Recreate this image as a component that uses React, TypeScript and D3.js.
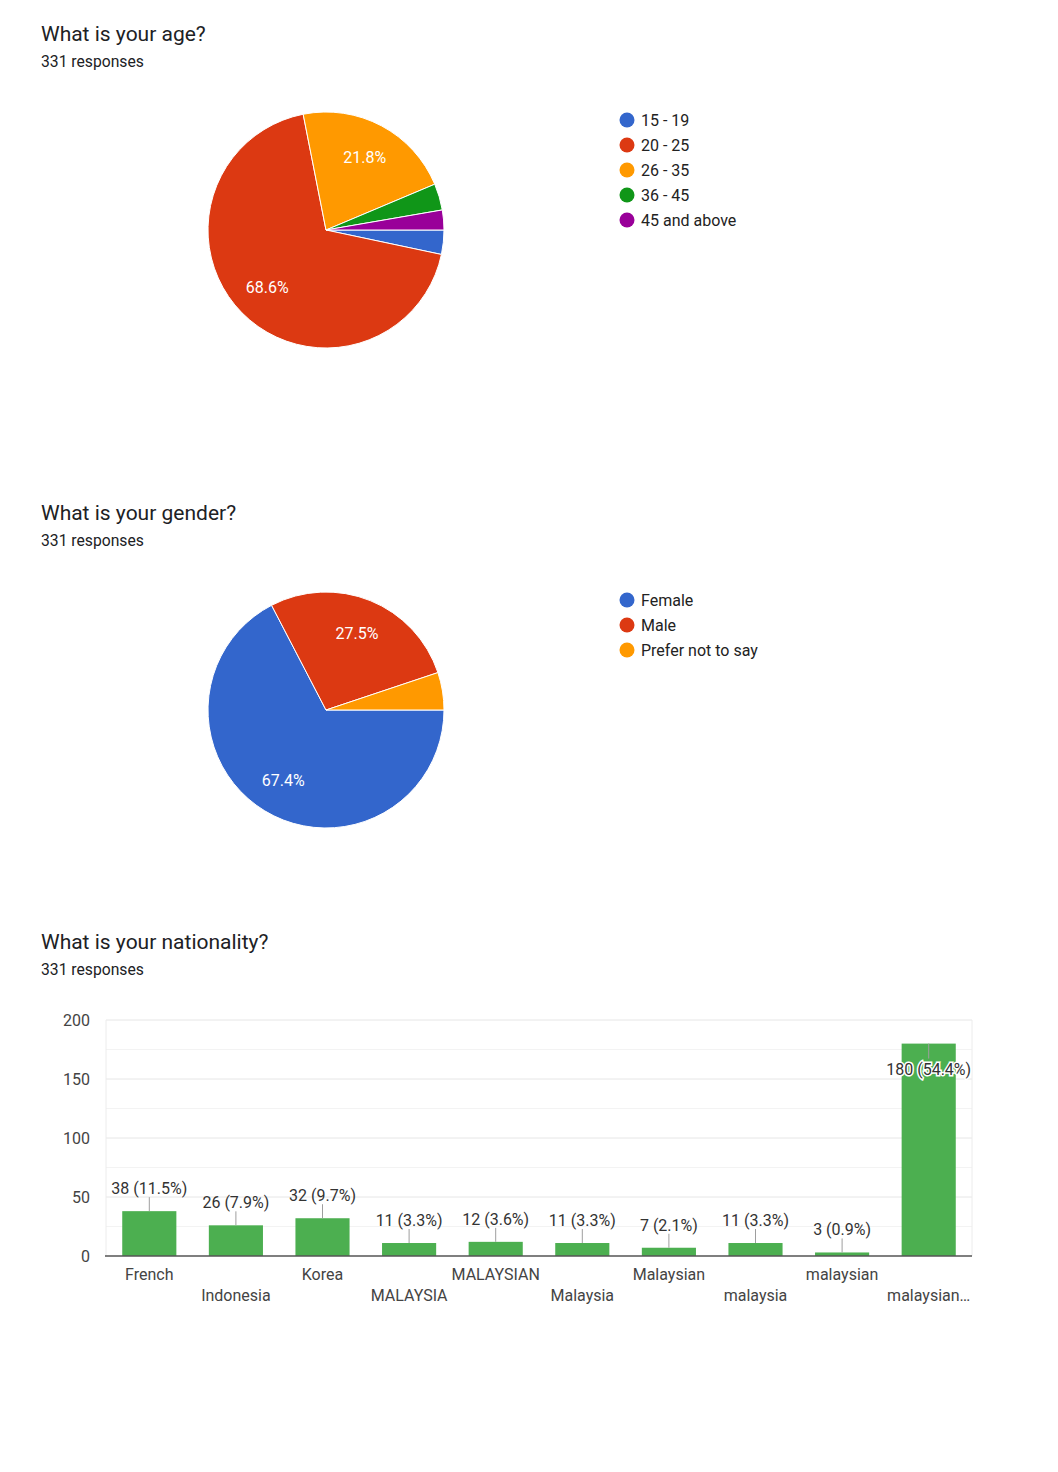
import React from "react";
import * as d3 from "d3";

const ageLabels = ["15 - 19", "20 - 25", "26 - 35", "36 - 45", "45 and above"];
const ageCounts = [11, 227, 72, 12, 9];
const ageColors = ["#3366cc", "#dc3912", "#ff9900", "#109618", "#990099"];

const genderLabels = ["Female", "Male", "Prefer not to say"];
const genderCounts = [223, 91, 17];
const genderColors = ["#3366cc", "#dc3912", "#ff9900"];

const nationCategories = [
  "French", "Indonesia", "Korea", "MALAYSIA", "MALAYSIAN",
  "Malaysia", "Malaysian", "malaysia", "malaysian", "malaysian…",
];
const nationCounts = [38, 26, 32, 11, 12, 11, 7, 11, 3, 180];
const nationTicks = [0, 50, 100, 150, 200];
const totalResponses = 331;

const FONT = "Roboto, 'Noto Sans', Arial, sans-serif";

function Header({ y, title }: { y: number; title: string }) {
  return (
    <g>
      <text x={41} y={y + 7} fontSize={21} fill="#202124" fontFamily={FONT}>{title}</text>
      <text x={41} y={y + 33} fontSize={15.7} fill="#202124" fontFamily={FONT}>{totalResponses} responses</text>
    </g>
  );
}

function Pie({ cx, cy, r, counts, colors, labels, legendY }: any) {
  const pie = d3.pie<number>().sort(null).startAngle(Math.PI / 2).endAngle(Math.PI / 2 + 2 * Math.PI);
  const arcs = pie(counts);
  const arc = d3.arc<any>().innerRadius(0).outerRadius(r);
  const labelArc = d3.arc<any>().innerRadius(r * 0.7).outerRadius(r * 0.7);
  const total = d3.sum(counts);
  return (
    <g>
      <g transform={`translate(${cx},${cy})`}>
        {arcs.map((a, i) => (
          <path key={i} d={arc(a) as string} fill={colors[i]} stroke="#fff" strokeWidth={1} />
        ))}
        {arcs.map((a, i) => {
          const p = a.value / total;
          if (p < 0.1) return null;
          const [x, y] = labelArc.centroid(a);
          return (
            <text key={"l" + i} x={x} y={y} fontSize={16} fill="#fff" textAnchor="middle"
              dominantBaseline="central" fontFamily={FONT}>
              {(p * 100).toFixed(1)}%
            </text>
          );
        })}
      </g>
      {labels.map((l: string, i: number) => (
        <g key={l} transform={`translate(627,${legendY + i * 25})`}>
          <circle r={7.5} fill={colors[i]} />
          <text x={14} y={0} fontSize={16} fill="#222" dominantBaseline="central" fontFamily={FONT}>{l}</text>
        </g>
      ))}
    </g>
  );
}

function Bars() {
  const top = 1020, bottom = 1256, left = 106, right = 972;
  const x = d3.scaleBand<string>().domain(nationCategories).range([left, right])
    .paddingInner(0.375).paddingOuter(0.1875);
  const y = d3.scaleLinear().domain([0, 200]).range([bottom, top]);
  const minor = d3.range(25, 200, 50);
  return (
    <g fontFamily={FONT}>
      {minor.map((t) => (
        <line key={"m" + t} x1={left} x2={right} y1={y(t)} y2={y(t)} stroke="#f3f3f3" />
      ))}
      {nationTicks.map((t) => (
        <g key={t}>
          {t > 0 && <line x1={left} x2={right} y1={y(t)} y2={y(t)} stroke="#e6e6e6" />}
          <text x={90} y={y(t)} fontSize={16} fill="#444" textAnchor="end" dominantBaseline="central">{t}</text>
        </g>
      ))}
      <line x1={left} x2={left} y1={top} y2={bottom} stroke="#ececec" />
      <line x1={right} x2={right} y1={top} y2={bottom} stroke="#ececec" />
      {nationCategories.map((c, i) => {
        const v = nationCounts[i];
        const bx = x(c)!;
        const bw = x.bandwidth();
        const cxm = bx + bw / 2;
        const yt = y(v);
        const label = `${v} (${((v / totalResponses) * 100).toFixed(1)}%)`;
        const above = yt - 33 > top;
        return (
          <g key={c}>
            <rect x={bx} y={yt} width={bw} height={bottom - yt} fill="#4caf50" />
            {above ? (
              <>
                <line x1={cxm} x2={cxm} y1={yt} y2={yt - 14} stroke="#9e9e9e" />
                <text x={cxm} y={yt - 17} fontSize={16} fill="#333" textAnchor="middle">{label}</text>
              </>
            ) : (
              <>
                <line x1={cxm} x2={cxm} y1={yt} y2={yt + 15} stroke="#9e9e9e" />
                <text x={cxm} y={yt + 31} fontSize={16} fill="#333" textAnchor="middle"
                  stroke="#fff" strokeWidth={3} paintOrder="stroke">{label}</text>
              </>
            )}
            <text x={cxm} y={i % 2 === 0 ? 1280 : 1301} fontSize={16} fill="#444" textAnchor="middle">{c}</text>
          </g>
        );
      })}
      <line x1={left - 1} x2={right} y1={bottom} y2={bottom} stroke="#555" strokeWidth={1.5} />
    </g>
  );
}

export default function App() {
  return (
    <svg width={1058} height={1472} style={{ position: "absolute", left: 0, top: 0, background: "#fff" }}>
      <rect width={1058} height={1472} fill="#fff" />
      <Header y={34} title="What is your age?" />
      <Pie cx={326} cy={230} r={118} counts={ageCounts} colors={ageColors} labels={ageLabels} legendY={120} />
      <Header y={513} title="What is your gender?" />
      <Pie cx={326} cy={710} r={118} counts={genderCounts} colors={genderColors} labels={genderLabels} legendY={600} />
      <Header y={942} title="What is your nationality?" />
      <Bars />
    </svg>
  );
}
